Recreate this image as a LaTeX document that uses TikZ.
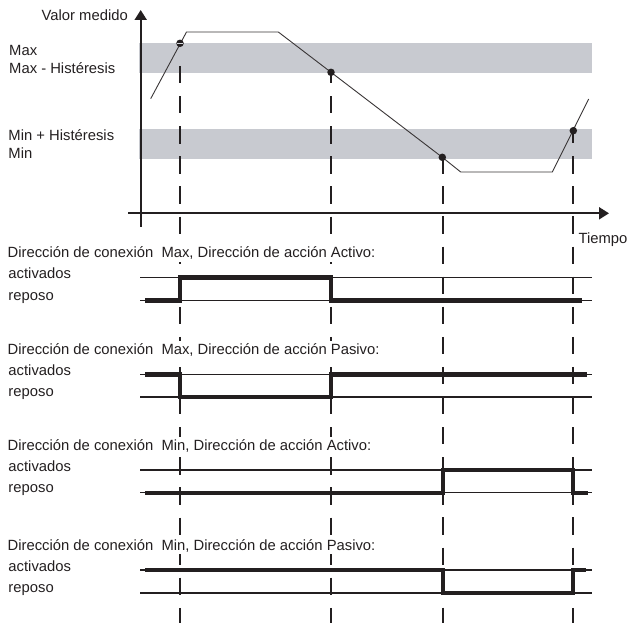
\documentclass[tikz,border=0pt]{standalone}
\usepackage{fontspec}
\setmainfont{Liberation Sans}
\usetikzlibrary{arrows.meta}
\definecolor{band}{RGB}{200,202,208}
\definecolor{ink}{RGB}{35,31,32}
\begin{document}
\begin{tikzpicture}[x=1pt,y=-1pt,
  lbl/.style={anchor=base west,inner sep=0pt,font=\fontsize{14.8}{17}\selectfont,text=ink},
  title/.style={lbl,fill=white,inner xsep=0pt,inner ysep=2.5pt},
  axis/.style={line width=2pt,draw=ink},
  curve/.style={line width=0.9pt,draw=ink!90},
  vdash/.style={line width=2pt,draw=ink,dash pattern=on 17.3pt off 12.8pt},
  thinline/.style={line width=1.3pt,draw=ink},
  sig/.style={line width=4.2pt,draw=ink,line join=miter},
  dot/.style={circle,fill=ink,inner sep=0pt,minimum size=7.5pt}
]
\useasboundingbox (0,0) rectangle (628,623);
% bands
\fill[band] (139.3,43.3) rectangle (592,72.7);
\fill[band] (139.3,129) rectangle (592,158.7);
% axes
\coordinate (yb) at (140.7,226.7);
\coordinate (yt) at (140.7,10);
\coordinate (xl) at (128.3,213.3);
\coordinate (xr) at (609,213.3);
\draw[axis,-{Triangle[length=10pt,width=12pt]}] (yb) -- (yt);
\draw[axis,-{Triangle[length=10pt,width=12pt]}] (xl) -- (xr);
% curve
\draw[curve] (150.7,98.7) -- (186.5,32) -- (278.3,32) -- (442.3,157.3) -- (460.7,172) -- (552.3,172) -- (588.7,99);
% dashed verticals
\coordinate (d1t) at (180,66);     \coordinate (d1b) at (180,623);
\coordinate (d2t) at (331,72.3);   \coordinate (d2b) at (331,623);
\coordinate (d3t) at (442.5,157.3);\coordinate (d3b) at (442.5,623);
\coordinate (d4t) at (573.3,130.7);\coordinate (d4b) at (573.3,623);
\draw[vdash] (d1t) -- (d1b);
\draw[vdash,dash phase=6.3pt] (d2t) -- (d2b);
\draw[vdash,dash phase=1.06pt] (d3t) -- (d3b);
\draw[vdash,dash phase=4.54pt] (d4t) -- (d4b);
% points
\node[dot] (p1) at (180,43.3) {};
\draw[band!70!white,line width=1pt] ([xshift=-3pt]p1.center) -- ([xshift=3pt]p1.center);
\node[dot] (p2) at (331,72.3) {};
\node[dot] (p3) at (442.3,157.3) {};
\node[dot] (p4) at (573.3,130.7) {};
% labels top
\node[lbl,anchor=base east] (vm) at (128,20.7) {Valor medido};
\node[lbl] (mx) at (9,56) {Max};
\node[lbl] (mxh) at (9,73.3) {Max - Histéresis};
\node[lbl] (mnh) at (8.3,140.7) {Min + Histéresis};
\node[lbl] (mn) at (8.3,158.3) {Min};
\node[lbl] (tp) at (578.3,243.3) {Tiempo};
% section 1
\node[title] (t1) at (7.5,257.5) {Dirección de conexión\ \ Max, Dirección de acción Activo:};
\node[lbl] (a1) at (8.3,278.5) {activados};
\node[lbl] (r1) at (8.3,300) {reposo};
\draw[thinline] (140,277.5) -- (591.7,277.5);
\draw[thinline] (140,300.5) -- (591.7,300.5);
\draw[sig] (145,300.5) -- (180,300.5) -- (180,277.5) -- (331,277.5) -- (331,300.5) -- (581.7,300.5);
% section 2
\node[title] (t2) at (7.5,354.5) {Dirección de conexión\ \ Max, Dirección de acción Pasivo:};
\node[lbl] (a2) at (8.3,375.5) {activados};
\node[lbl] (r2) at (8.3,396.5) {reposo};
\draw[thinline] (140,374.5) -- (591.7,374.5);
\draw[thinline] (140,397) -- (591.7,397);
\draw[sig] (145,374.5) -- (180,374.5) -- (180,397) -- (331,397) -- (331,374.5) -- (586.7,374.5);
% section 3
\node[title] (t3) at (7.5,450) {Dirección de conexión\ \ Min, Dirección de acción Activo:};
\node[lbl] (a3) at (8.3,471) {activados};
\node[lbl] (r3) at (8.3,492.2) {reposo};
\draw[thinline] (140,470) -- (591.7,470);
\draw[thinline] (140,492.7) -- (591.7,492.7);
\draw[sig] (145,492.7) -- (442.7,492.7) -- (442.7,470) -- (573.3,470) -- (573.3,492.7) -- (588,492.7);
% section 4
\node[title] (t4) at (7.5,550) {Dirección de conexión\ \ Min, Dirección de acción Pasivo:};
\node[lbl] (a4) at (8.3,571) {activados};
\node[lbl] (r4) at (8.3,592.5) {reposo};
\draw[thinline] (140,570) -- (591.7,570);
\draw[thinline] (140,593) -- (591.7,593);
\draw[sig] (145,570) -- (442.7,570) -- (442.7,593) -- (573.3,593) -- (573.3,570) -- (585.7,570);
\end{tikzpicture}
\end{document}
